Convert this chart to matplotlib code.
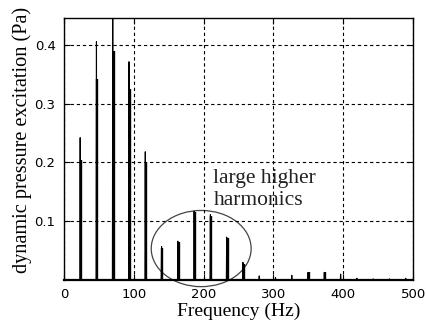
import numpy as np
import matplotlib.pyplot as plt
from matplotlib.patches import Ellipse

# harmonic number and spectrum amplitudes (Pa)
harmonic = np.arange(1, 22)
f0 = 23.3
# thin line: narrow-peak spectrum
thin_amp = [0.242, 0.405, 0.47, 0.371, 0.218, 0.057, 0.066, 0.117, 0.111, 0.073,
            0.030, 0.007, 0.004, 0.008, 0.013, 0.013, 0.010, 0.003, 0.002, 0.002, 0.003]
# thick line: discrete harmonic amplitudes
thick_amp = [0.204, 0.342, 0.390, 0.325, 0.199, 0.055, 0.064, 0.115, 0.108, 0.071,
             0.028, 0.0, 0.0, 0.0, 0.013, 0.013, 0.0, 0.0, 0.0, 0.0, 0.0]

x_ticks = [0, 100, 200, 300, 400, 500]
y_ticks = [0.1, 0.2, 0.3, 0.4]

freq = harmonic * f0

plt.rcParams['font.family'] = 'Liberation Serif'

fig = plt.figure(figsize=(4.26, 3.31), dpi=100)
ax = fig.add_axes([0.150, 0.154, 0.820, 0.791])

# thin spectrum drawn as narrow peaks
w = 0.5
xs = np.column_stack([freq - w, freq, freq + w]).ravel()
ys = np.column_stack([np.zeros(len(freq)), thin_amp, np.zeros(len(freq))]).ravel()
xs = np.concatenate([[0], xs, [500]])
ys = np.concatenate([[0], ys, [0]])
ax.plot(xs, ys, color="black", lw=0.8)

ax.vlines(freq + 1.3, 0, thick_amp, color="black", lw=1.7)

ax.add_patch(Ellipse((196.5, 0.0535), 143, 0.1295, fill=False,
                     edgecolor="#444444", lw=0.9, clip_on=False))
ax.text(214, 0.188, "large higher\nharmonics", fontsize=15.5, va="top",
        color="#222222", linespacing=1.2)

ax.set_xlim(0, 500)
ax.set_ylim(0, 0.445)
ax.set_xticks(x_ticks)
ax.set_yticks(y_ticks)
ax.set_xticklabels([str(t) for t in x_ticks], family="DejaVu Sans", fontsize=9.5)
ax.set_yticklabels([str(t) for t in y_ticks], family="DejaVu Sans", fontsize=9.5)
ax.tick_params(direction="in", length=4, top=True, right=True, pad=6)
ax.grid(True, color="black", linestyle=(0, (3, 2.5)), lw=0.8)
for s in ax.spines.values():
    s.set_linewidth(1.0)
ax.spines["bottom"].set_linewidth(1.6)

ax.set_xlabel("Frequency (Hz)", fontsize=14, labelpad=1)
ax.set_ylabel("dynamic pressure excitation (Pa)", fontsize=14.6)
ax.yaxis.set_label_coords(-0.09, 0.535)

fig.savefig("out.png", dpi=100)
